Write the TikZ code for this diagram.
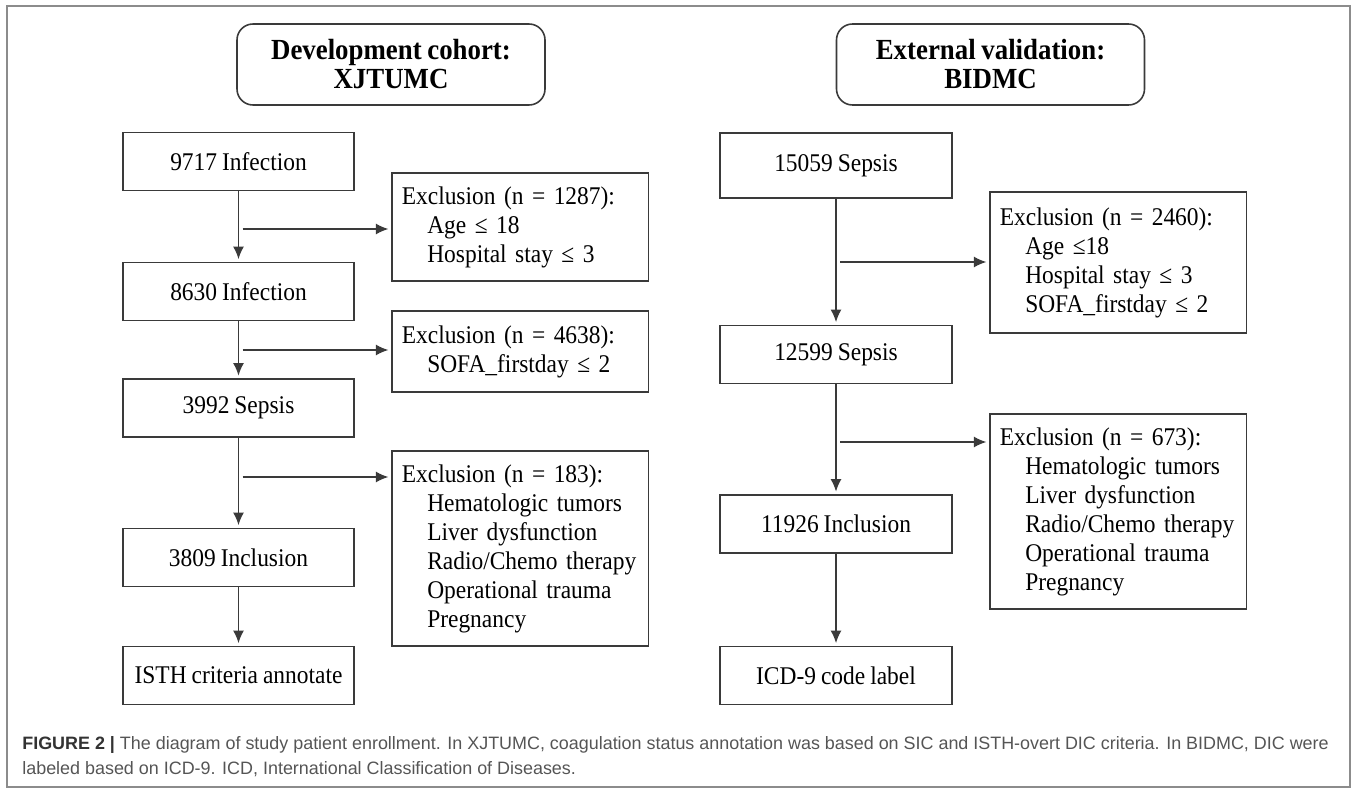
\documentclass[tikz,border=0pt]{standalone}
\usepackage{fontspec}
\setmainfont{Liberation Serif}[FakeStretch=0.92,WordSpace=0.85]
\setsansfont{Liberation Sans}
\usetikzlibrary{arrows.meta}
\definecolor{framegray}{HTML}{8C8C8C}
\definecolor{linegray}{HTML}{3A3A3A}
\definecolor{capgray}{HTML}{555555}
\def\ind{\hspace*{1em}}
\def\txt{\fontsize{14.5}{16.5}\selectfont}
\def\cap{\sffamily\fontsize{10.2}{14.2}\selectfont}

\begin{document}
\begin{tikzpicture}[>={Latex[length=0.25cm,width=0.22cm]},font=\txt,inner sep=2pt,
    box/.style={draw=linegray,line width=0.9pt,minimum width=4.63cm,minimum height=1.16cm},
    excl/.style={draw=linegray,line width=0.9pt,anchor=west,text width=4.73cm,align=left,inner xsep=0.2cm},
    head/.style={draw=linegray,line width=0.9pt,rounded corners=0.32cm,minimum width=6.16cm,minimum height=1.62cm,align=center,font=\fontsize{16.6}{16.5}\selectfont\bfseries},
    flow/.style={->,draw=linegray,line width=0.8pt,shorten >=1.5pt}]

    \useasboundingbox (0,0) rectangle (27.14,-15.88);
    \draw[framegray,line width=0.8pt] (0.14,-0.12) rectangle (27.0,-15.74);

    % development cohort
    \begin{scope}[xshift=4.77cm]
        \node[head] (devH) at (3.05,-1.29) {Development cohort:\\XJTUMC};
        \node[box] (inf1) at (0,-3.23) {9717 Infection};
        \node[box] (inf2) at (0,-5.83) {8630 Infection};
        \node[box] (sepL) at (0,-8.16) {3992 Sepsis};
        \node[box] (incL) at (0,-11.15) {3809 Inclusion};
        \node[box] (isth) at (0,-13.51) {ISTH criteria annotate};

        \node[excl,minimum height=2.16cm] (exA) at (3.05,-4.54) {Exclusion (n = 1287):\\\ind Age ≤ 18\\\ind Hospital stay ≤ 3};
        \node[excl,minimum height=1.62cm] (exB) at (3.05,-7.03) {Exclusion (n = 4638):\\\ind SOFA\_firstday ≤ 2};
        \node[excl,minimum height=3.9cm] (exC) at (3.05,-10.97) {Exclusion (n = 183):\\\ind Hematologic tumors\\\ind Liver dysfunction\\\ind Radio/Chemo therapy\\\ind Operational trauma\\\ind Pregnancy};

        \coordinate (bA) at (0.08,-4.58);
        \coordinate (bB) at (0.08,-7.00);
        \coordinate (bC) at (0.08,-9.54);

        \draw[flow] (inf1) -- (inf2);
        \draw[flow] (inf2) -- (sepL);
        \draw[flow] (sepL) -- (incL);
        \draw[flow] (incL) -- (isth);
        \draw[flow] (bA) -- (bA -| exA.west);
        \draw[flow] (bB) -- (bB -| exB.west);
        \draw[flow] (bC) -- (bC -| exC.west);
    \end{scope}

    % external validation
    \begin{scope}[xshift=16.72cm]
        \node[head] (valH) at (3.09,-1.29) {External validation:\\BIDMC};
        \node[box,minimum height=1.3cm] (sep1) at (0,-3.31) {15059 Sepsis};
        \node[box] (sep2) at (0,-7.09) {12599 Sepsis};
        \node[box] (incR) at (0,-10.48) {11926 Inclusion};
        \node[box] (icd) at (0,-13.51) {ICD-9 code label};

        \node[excl,minimum height=2.82cm] (exD) at (3.06,-5.25) {Exclusion (n = 2460):\\\ind Age ≤18\\\ind Hospital stay ≤ 3\\\ind SOFA\_firstday ≤ 2};
        \node[excl,minimum height=3.9cm] (exE) at (3.06,-10.23) {Exclusion (n = 673):\\\ind Hematologic tumors\\\ind Liver dysfunction\\\ind Radio/Chemo therapy\\\ind Operational trauma\\\ind Pregnancy};

        \coordinate (bD) at (0.08,-5.24);
        \coordinate (bE) at (0.08,-8.84);

        \draw[flow] (sep1) -- (sep2);
        \draw[flow] (sep2) -- (incR);
        \draw[flow] (incR) -- (icd);
        \draw[flow] (bD) -- (bD -| exD.west);
        \draw[flow] (bE) -- (bE -| exE.west);
    \end{scope}

    \node[anchor=north west,align=left,inner sep=0pt,font=\cap,text=capgray] (capt) at (0.44,-14.72)
        {\textbf{\color{black!80}FIGURE 2 |} The diagram of study patient enrollment. In XJTUMC, coagulation status annotation was based on SIC and ISTH-overt DIC criteria. In BIDMC, DIC were\\
        labeled based on ICD-9. ICD, International Classification of Diseases.};

\end{tikzpicture}
\end{document}
